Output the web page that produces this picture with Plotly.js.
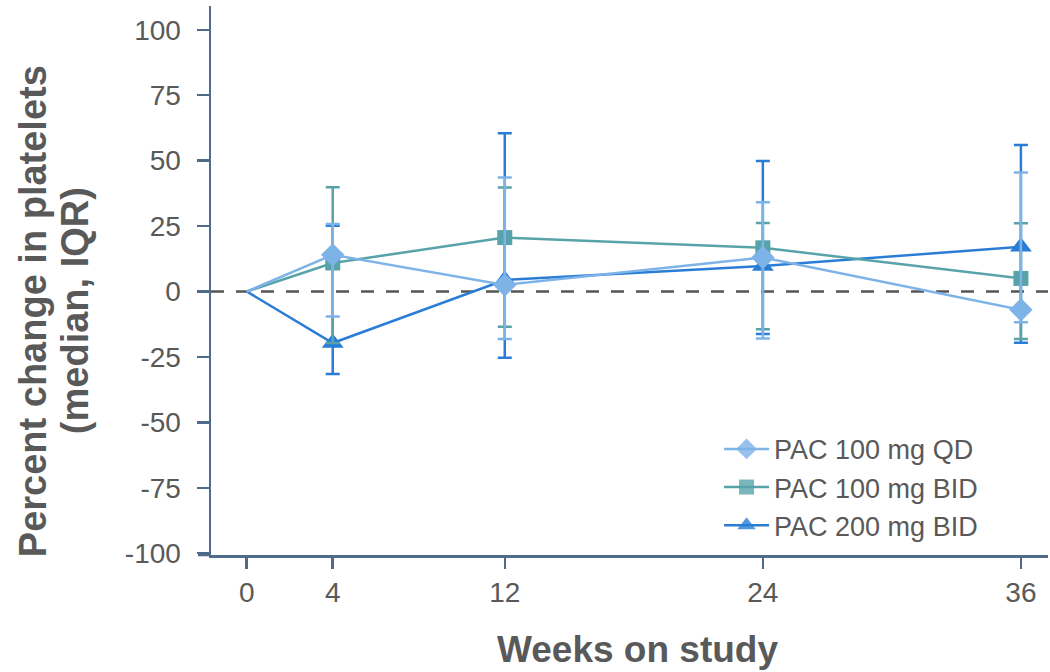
<!DOCTYPE html>
<html>
<head>
<meta charset="utf-8">
<script src="https://cdn.plot.ly/plotly-3.0.1.min.js"></script>
<style>
  html, body { margin: 0; padding: 0; background: #ffffff; }
  #chart { width: 1050px; height: 672px; }
</style>
</head>
<body>
<div id="chart"></div>
<script>
// Visit weeks
const weeks = [0, 4, 12, 24, 36];
const weekLabels = ['0', '4', '12', '24', '36'];

// Y axis ticks
const yTickVals = [-100, -75, -50, -25, 0, 25, 50, 75, 100];
const yTickText = ['-100', '-75', '-50', '-25', '0', '25', '50', '75', '100'];

// Percent change in platelets: median with interquartile range (no IQR at baseline)
const qdMedian = [0, 14, 2.5, 13, -7];
const qdQ1 = [null, -9.6, -18.2, -18, -11.8];
const qdQ3 = [null, 25.8, 43.6, 34.1, 45.5];

const bid100Median = [0, 10.9, 20.6, 16.7, 5];
const bid100Q1 = [null, -19.7, -13.5, -14.4, -18.2];
const bid100Q3 = [null, 39.8, 39.7, 26.2, 26.1];

const bid200Median = [0, -19.7, 4.4, 9.7, 17.1];
const bid200Q1 = [null, -31.5, -25.3, -16.2, -19.6];
const bid200Q3 = [null, 25.1, 60.5, 49.9, 56];

const seriesNames = ['PAC 100 mg QD', 'PAC 100 mg BID', 'PAC 200 mg BID'];
const seriesColors = ['#7eb3e8', '#58a3aa', '#2a7dd6'];

function series(name, color, med, q1, q3, symbol, size, rank) {
  return {
    type: 'scatter',
    mode: 'lines+markers',
    name: name,
    legendrank: rank,
    x: weeks,
    y: med,
    line: { color: color, width: 2.5 },
    // baseline point carries no marker
    marker: {
      color: color,
      symbol: symbol,
      size: size,
      opacity: weeks.map(w => (w === 0 ? 0 : 1))
    },
    error_y: {
      type: 'data',
      symmetric: false,
      array: q3.map((v, i) => (v === null ? NaN : v - med[i])),
      arrayminus: q1.map((v, i) => (v === null ? NaN : med[i] - v)),
      color: color,
      thickness: 2.5,
      width: 7
    }
  };
}

// Drawn back to front so the QD series sits on top
const traces = [
  series(seriesNames[2], seriesColors[2], bid200Median, bid200Q1, bid200Q3, 'triangle-up', 19, 3),
  series(seriesNames[1], seriesColors[1], bid100Median, bid100Q1, bid100Q3, 'square', 15, 2),
  series(seriesNames[0], seriesColors[0], qdMedian, qdQ1, qdQ3, 'diamond', 18, 1)
];

const axisColor = '#4e6b8a';
const textColor = '#595959';
const fontFamily = '"Liberation Sans", Arial, Helvetica, sans-serif';
const titleFont = { size: 38, color: textColor, family: fontFamily, weight: 'bold' };

const layout = {
  width: 1050,
  height: 672,
  margin: { l: 211, r: 2, t: 6, b: 117 },
  paper_bgcolor: '#ffffff',
  plot_bgcolor: '#ffffff',
  font: { family: fontFamily, color: textColor, size: 28 },
  showlegend: true,
  legend: {
    x: 0.607,
    y: 0.237,
    xanchor: 'left',
    yanchor: 'top',
    traceorder: 'normal',
    font: { size: 27, color: textColor },
    bgcolor: 'rgba(0,0,0,0)',
    itemwidth: 45
  },
  xaxis: {
    range: [-1.66, 37.26],
    tickmode: 'array',
    tickvals: weeks,
    ticktext: weekLabels,
    ticks: 'outside',
    ticklen: 11,
    tickwidth: 2.5,
    tickcolor: axisColor,
    showline: true,
    linecolor: axisColor,
    linewidth: 2.5,
    showgrid: false,
    zeroline: false,
    tickfont: { size: 28, color: textColor }
  },
  yaxis: {
    range: [-100.7, 109.1],
    tickmode: 'array',
    tickvals: yTickVals,
    ticktext: yTickText,
    ticks: 'outside',
    ticklen: 12,
    tickwidth: 2.5,
    tickcolor: axisColor,
    ticklabelstandoff: 10,
    showline: true,
    linecolor: axisColor,
    linewidth: 2.5,
    showgrid: false,
    zeroline: false,
    tickfont: { size: 28, color: textColor }
  },
  annotations: [
    {
      text: 'Percent change in platelets',
      textangle: -90,
      xref: 'paper', yref: 'paper',
      x: -0.2127, y: 0.444,
      xanchor: 'center', yanchor: 'middle',
      showarrow: false,
      font: titleFont
    },
    {
      text: '(median, IQR)',
      textangle: -90,
      xref: 'paper', yref: 'paper',
      x: -0.1625, y: 0.446,
      xanchor: 'center', yanchor: 'middle',
      showarrow: false,
      font: titleFont
    },
    {
      text: 'Weeks on study',
      xref: 'paper', yref: 'paper',
      x: 0.509, y: -0.173,
      xanchor: 'center', yanchor: 'middle',
      showarrow: false,
      font: { size: 37, color: textColor, family: fontFamily, weight: 'bold' }
    }
  ],
  shapes: [
    {
      // zero reference line
      type: 'line', layer: 'below',
      xref: 'paper', x0: 0, x1: 1,
      yref: 'y', y0: 0, y1: 0,
      line: { color: '#555555', width: 2.5, dash: '13px,12px' }
    },
    {
      // x axis line continues past the y axis
      type: 'line', layer: 'above',
      xref: 'paper', x0: -0.0155, x1: 0,
      yref: 'paper', y0: 0, y1: 0,
      line: { color: axisColor, width: 2.5 }
    }
  ]
};

Plotly.newPlot('chart', traces, layout, { displayModeBar: false, staticPlot: true });
</script>
</body>
</html>
